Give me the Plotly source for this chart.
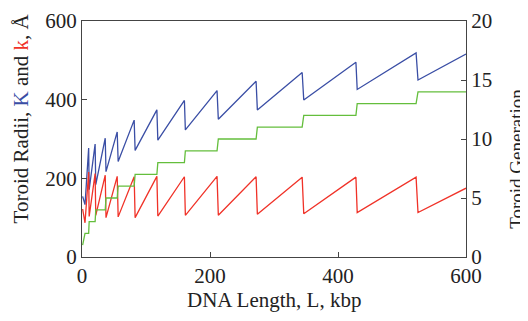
import plotly.graph_objects as go

# DNA length (kbp) sample points: each generation segment start/end
L = [1, 4.7, 10.4, 11.2, 20.5, 21.5, 36.3, 37.5, 55, 56.5, 81.5, 83, 117, 118.5,
     160, 161.5, 211, 213, 272, 274, 344, 346.5, 428, 430, 522, 525, 600]
# Outer toroid radius K (Å)
K_big = [154, 133, 277, 171, 287, 184, 302, 217, 318, 243, 348, 271, 374, 297,
         398, 323, 423, 350, 447, 374, 469, 399, 495, 426, 519, 450, 516]
# Inner toroid radius k (Å)
k_small = [122, 87, 216, 103, 212, 106, 208, 100, 205, 102, 204, 100, 205, 104,
           204, 106, 205, 106, 204, 109, 203, 110, 203, 113, 203, 113, 175]
# Toroid generation
gen = [1, 2, 2, 3, 3, 4, 4, 5, 5, 6, 6, 7, 7, 8,
       8, 9, 9, 10, 10, 11, 11, 12, 12, 13, 13, 14, 14]

x_ticks = [0, 200, 400, 600]
y_ticks = [0, 200, 400, 600]
y2_ticks = [0, 5, 10, 15, 20]

BLUE = "rgb(58,78,165)"
RED = "rgb(240,50,40)"
GREEN = "rgb(100,190,60)"
AX = "#444444"
FONT = "Liberation Serif"

# page body has an 8px default margin: figure coordinates = window - 8
OFF = 8
FW, FH = 528 - OFF, 321 - OFF
PL, PR, PT, PB = 82 - OFF, 466 - OFF, 21 - OFF, 257.3 - OFF
W, H = PR - PL, PB - PT

fig = go.Figure()
fig.add_trace(go.Scatter(x=L, y=K_big, mode="lines", line=dict(color=BLUE, width=1.3)))
fig.add_trace(go.Scatter(x=L, y=k_small, mode="lines", line=dict(color=RED, width=1.3)))
fig.add_trace(go.Scatter(x=L, y=gen, mode="lines", yaxis="y2", line=dict(color=GREEN, width=1.3)))

axis_common = dict(showgrid=False, zeroline=False, showline=True, linecolor=AX, linewidth=1,
                   ticks="inside", ticklen=5, tickcolor=AX, tickwidth=1, automargin=False,
                   tickfont=dict(family=FONT, size=21, color="#222"))

fig.update_layout(
    width=FW, height=FH,
    margin=dict(l=PL, r=FW - PR, t=PT, b=FH - PB, autoexpand=False),
    paper_bgcolor="white", plot_bgcolor="white",
    showlegend=False,
    font=dict(family=FONT, color="#222"),
    xaxis=dict(range=[0, 600], tickvals=x_ticks, mirror=True, **axis_common),
    yaxis=dict(range=[0, 600], tickvals=y_ticks, **axis_common),
    yaxis2=dict(range=[0, 20], tickvals=y2_ticks, overlaying="y", side="right", **axis_common),
    annotations=[
        dict(text="DNA Length, L, kbp",
             xref="paper", yref="paper", x=0.5, y=(PB - (300 - OFF)) / H,
             xanchor="center", yanchor="middle", showarrow=False,
             font=dict(family=FONT, size=21, color="#222")),
        dict(text='Toroid Radii, <span style="color:rgb(58,78,165)">K</span> and '
                  '<span style="color:rgb(240,50,40)">k</span>, Å',
             xref="paper", yref="paper", x=((21 - OFF) - PL) / W, y=(PB - (118.5 - OFF)) / H,
             xanchor="center", yanchor="middle", textangle=-90, showarrow=False,
             font=dict(family=FONT, size=21, color="#222")),
        dict(text="Toroid Generation,",
             xref="paper", yref="paper", x=((516.5 - OFF) - PL) / W, y=(PB - (157.5 - OFF)) / H,
             xanchor="center", yanchor="middle", textangle=-90, showarrow=False,
             font=dict(family=FONT, size=19, color="#222")),
    ],
)

fig.write_html("out.html")
